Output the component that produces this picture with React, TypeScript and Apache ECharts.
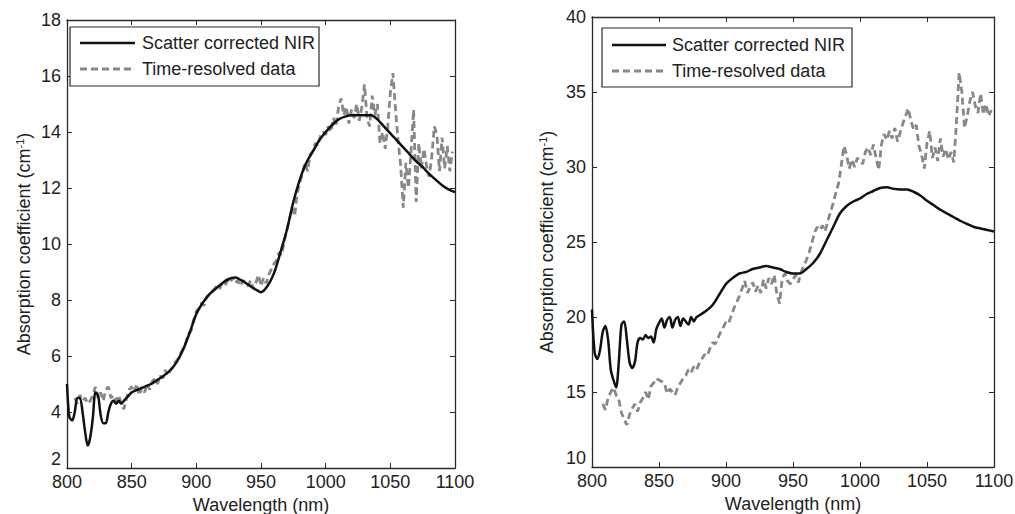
import React, { useEffect, useRef } from "react";
import * as echarts from "echarts";

const FONT = "'Liberation Sans', Arial, sans-serif";

// Left panel: scatter corrected NIR
const leftNirWl = [800, 801, 802, 804, 806, 808, 810, 812, 814, 816, 818, 820, 822, 824, 826, 828, 830, 832, 834, 836, 838, 840, 842, 844, 846, 848, 850, 855, 860, 865, 870, 875, 880, 885, 890, 895, 900, 905, 910, 915, 920, 925, 930, 935, 940, 945, 950, 955, 960, 965, 970, 975, 980, 985, 990, 995, 1000, 1005, 1010, 1015, 1020, 1025, 1030, 1035, 1040, 1045, 1050, 1055, 1060, 1065, 1070, 1075, 1080, 1085, 1090, 1095, 1100];
const leftNirVal = [5.0, 4.2, 3.8, 3.7, 4.0, 4.5, 4.5, 4.0, 3.3, 2.8, 3.1, 3.8, 4.7, 4.6, 3.9, 3.6, 3.6, 4.0, 4.3, 4.4, 4.3, 4.4, 4.3, 4.4, 4.5, 4.6, 4.7, 4.8, 4.9, 5.0, 5.15, 5.3, 5.5, 5.8, 6.25, 6.85, 7.5, 7.9, 8.2, 8.4, 8.6, 8.75, 8.8, 8.7, 8.55, 8.4, 8.28, 8.5, 8.95, 9.7, 10.5, 11.5, 12.3, 12.9, 13.3, 13.7, 14.0, 14.25, 14.45, 14.55, 14.6, 14.6, 14.6, 14.6, 14.45, 14.2, 13.95, 13.7, 13.45, 13.2, 12.95, 12.75, 12.5, 12.3, 12.1, 11.95, 11.85];

// Left panel: time-resolved data
const leftTrWl = [806, 808, 810, 812, 814, 816, 818, 820, 822, 824, 826, 828, 830, 832, 834, 836, 838, 840, 842, 844, 846, 848, 850, 852, 854, 856, 858, 860, 862, 864, 866, 868, 870, 872, 874, 876, 878, 880, 882, 884, 886, 888, 890, 892, 894, 896, 898, 900, 902, 904, 906, 908, 910, 912, 914, 916, 918, 920, 922, 924, 926, 928, 930, 932, 934, 936, 938, 940, 942, 944, 946, 948, 950, 952, 954, 956, 958, 960, 962, 964, 966, 968, 970, 972, 974, 976, 978, 980, 982, 984, 986, 988, 990, 992, 994, 996, 998, 1000, 1002, 1004, 1006, 1008, 1010, 1012, 1014, 1016, 1018, 1020, 1022, 1024, 1026, 1028, 1030, 1032, 1034, 1036, 1038, 1040, 1042, 1044, 1046, 1048, 1050, 1052, 1054, 1056, 1058, 1060, 1062, 1064, 1066, 1068, 1070, 1072, 1074, 1076, 1078, 1080, 1082, 1084, 1086, 1088, 1090, 1092, 1094, 1096, 1098];
const leftTrVal = [4.5, 4.3, 4.6, 4.4, 4.5, 4.3, 4.4, 4.6, 4.9, 4.5, 4.7, 4.4, 4.8, 4.9, 4.5, 4.6, 4.4, 4.6, 4.3, 4.1, 4.5, 4.8, 4.9, 4.7, 5.0, 4.6, 4.9, 4.7, 5.0, 4.8, 5.1, 5.2, 5.0, 5.3, 5.2, 5.5, 5.3, 5.5, 5.6, 5.8, 5.9, 6.1, 6.3, 6.5, 6.8, 6.9, 7.3, 7.6, 7.7, 7.9, 7.8, 8.1, 8.2, 8.3, 8.4, 8.5, 8.4, 8.6, 8.5, 8.7, 8.6, 8.8, 8.6, 8.7, 8.5, 8.7, 8.6, 8.5, 8.7, 8.4, 8.6, 8.9, 8.5, 8.8, 8.6, 8.9, 9.1, 9.3, 9.4, 9.7, 9.6, 10.1, 10.5, 10.9, 11.3, 11.0, 11.8, 12.2, 12.5, 12.9, 12.6, 13.2, 13.3, 13.6, 13.5, 13.9, 14.0, 13.9, 14.2, 14.0, 14.5, 14.2, 14.9, 15.2, 14.6, 14.9, 14.3, 14.8, 14.5, 15.0, 14.4, 14.9, 15.7, 14.5, 14.2, 15.3, 14.6, 15.0, 13.6, 14.0, 13.4, 14.2, 15.4, 16.1, 14.8, 13.7, 12.8, 11.3, 12.9, 12.0, 13.3, 14.8, 11.5, 13.6, 12.7, 13.4, 12.8, 12.4, 13.1, 14.2, 13.9, 12.6, 13.8, 12.7, 13.5, 12.6, 13.3];

// Right panel: scatter corrected NIR
const rightNirWl = [800, 802, 804, 806, 808, 810, 812, 814, 816, 818, 820, 822, 824, 826, 828, 830, 832, 834, 836, 838, 840, 842, 844, 846, 848, 850, 852, 854, 856, 858, 860, 862, 864, 866, 868, 870, 872, 874, 876, 878, 880, 885, 890, 895, 900, 905, 910, 915, 920, 925, 930, 935, 940, 945, 950, 955, 960, 965, 970, 975, 980, 985, 990, 995, 1000, 1005, 1010, 1015, 1020, 1025, 1030, 1035, 1040, 1045, 1050, 1055, 1060, 1065, 1070, 1075, 1080, 1085, 1090, 1095, 1100];
const rightNirVal = [20.5, 17.6, 17.2, 17.8, 19.0, 19.4, 18.5, 16.5, 15.8, 15.3, 17.0, 19.5, 19.7, 18.5, 17.0, 16.6, 17.0, 18.3, 18.6, 18.5, 18.8, 18.6, 18.7, 18.3, 19.2, 19.6, 19.9, 19.3, 19.8, 20.0, 19.3, 19.8, 20.0, 19.4, 19.9, 19.7, 19.5, 20.0, 19.7, 20.0, 20.1, 20.4, 20.8, 21.5, 22.2, 22.6, 22.9, 23.0, 23.2, 23.3, 23.4, 23.3, 23.2, 23.0, 22.9, 22.9, 23.2, 23.6, 24.2, 25.1, 26.0, 26.9, 27.4, 27.7, 27.9, 28.2, 28.4, 28.6, 28.65, 28.55, 28.5, 28.5, 28.35, 28.1, 27.75, 27.45, 27.15, 26.9, 26.65, 26.4, 26.2, 26.0, 25.9, 25.8, 25.7];

// Right panel: time-resolved data
const rightTrWl = [808, 810, 812, 814, 816, 818, 820, 822, 824, 826, 828, 830, 832, 834, 836, 838, 840, 842, 844, 846, 848, 850, 852, 854, 856, 858, 860, 862, 864, 866, 868, 870, 872, 874, 876, 878, 880, 882, 884, 886, 888, 890, 892, 894, 896, 898, 900, 902, 904, 906, 908, 910, 912, 914, 916, 918, 920, 922, 924, 926, 928, 930, 932, 934, 936, 938, 940, 942, 944, 946, 948, 950, 952, 954, 956, 958, 960, 962, 964, 966, 968, 970, 972, 974, 976, 978, 980, 982, 984, 986, 988, 990, 992, 994, 996, 998, 1000, 1002, 1004, 1006, 1008, 1010, 1012, 1014, 1016, 1018, 1020, 1022, 1024, 1026, 1028, 1030, 1032, 1034, 1036, 1038, 1040, 1042, 1044, 1046, 1048, 1050, 1052, 1054, 1056, 1058, 1060, 1062, 1064, 1066, 1068, 1070, 1072, 1074, 1076, 1078, 1080, 1082, 1084, 1086, 1088, 1090, 1092, 1094, 1096, 1098];
const rightTrVal = [14.2, 13.8, 14.6, 15.0, 15.3, 14.8, 14.5, 13.6, 13.2, 12.8, 13.5, 13.9, 14.2, 13.7, 14.3, 14.6, 15.0, 14.5, 15.4, 15.6, 15.9, 15.8, 15.7, 15.6, 14.9, 15.2, 15.0, 14.8, 15.3, 15.6, 15.9, 16.1, 16.5, 16.3, 16.7, 16.5, 16.9, 17.2, 17.5, 17.4, 17.9, 18.3, 18.2, 18.6, 19.0, 19.3, 19.7, 19.6, 20.1, 20.6, 21.0, 21.4, 21.9, 22.4, 21.6, 22.0, 22.3, 21.7, 22.1, 21.6, 22.5, 21.9, 22.6, 22.2, 22.8, 21.5, 20.9, 22.6, 22.9, 22.4, 22.2, 22.5, 22.8, 22.3, 23.0, 23.4, 23.8, 24.3, 24.9, 25.6, 26.0, 25.8, 26.1, 25.7, 26.4, 27.0, 27.6, 28.3, 28.9, 30.1, 31.4, 30.8, 29.9, 30.5, 30.0, 30.6, 30.4, 30.2, 31.0, 31.3, 30.8, 31.5, 30.6, 29.8, 31.5, 32.2, 31.8, 32.4, 31.9, 32.6, 31.7, 32.3, 32.9, 33.4, 33.9, 33.1, 32.5, 32.8, 31.4, 30.8, 29.9, 31.6, 32.4, 30.6, 31.3, 30.4, 31.9, 30.7, 31.2, 30.5, 31.0, 30.3, 33.0, 36.3, 35.0, 32.6, 33.4, 34.4, 35.0, 34.1, 33.6, 34.9, 33.5, 34.2, 33.4, 33.8];

const seriesNames = ["Scatter corrected NIR", "Time-resolved data"];
const xAxisTitle = "Wavelength (nm)";
const yAxisTitle = "Absorption coefficient (cm{sup|-1})";

const pairs = (xs: number[], ys: number[]) => xs.map((x, i) => [x, ys[i]]);

const AXIS_COLOR = "#2a2a2a";
const TEXT_COLOR = "#222";
const plain = (v: number) => String(v);

function bottomX(gridIndex: number) {
  return {
    type: "value", gridIndex, position: "bottom", min: 800, max: 1100, interval: 50,
    axisLine: { show: true, onZero: false, lineStyle: { color: AXIS_COLOR, width: 1.3 } },
    axisTick: { show: true, inside: true, length: 5, lineStyle: { color: AXIS_COLOR } },
    axisLabel: { show: true, fontFamily: FONT, fontSize: 18, color: TEXT_COLOR, margin: 5, formatter: plain },
    splitLine: { show: false },
    name: xAxisTitle, nameLocation: "middle", nameGap: 25,
    nameTextStyle: { fontFamily: FONT, fontSize: 18, color: TEXT_COLOR, lineHeight: 19 },
  };
}
function topX(gridIndex: number) {
  return {
    type: "value", gridIndex, position: "top", min: 800, max: 1100, interval: 50,
    axisLine: { show: true, onZero: false, lineStyle: { color: AXIS_COLOR, width: 1.3 } },
    axisTick: { show: true, inside: true, length: 5, lineStyle: { color: AXIS_COLOR } },
    axisLabel: { show: false }, splitLine: { show: false },
  };
}
function leftY(gridIndex: number, min: number, max: number, interval: number, nameGap: number) {
  return {
    type: "value", gridIndex, position: "left", min, max, interval,
    axisLine: { show: true, onZero: false, lineStyle: { color: AXIS_COLOR, width: 1.3 } },
    axisTick: { show: true, inside: true, length: 5, lineStyle: { color: AXIS_COLOR } },
    axisLabel: { show: true, fontFamily: FONT, fontSize: 18, color: TEXT_COLOR, margin: 6, formatter: plain, verticalAlignMinLabel: "bottom" },
    splitLine: { show: false },
    name: yAxisTitle, nameLocation: "middle", nameGap,
    nameTextStyle: {
      fontFamily: FONT, fontSize: 18, color: TEXT_COLOR,
      rich: { sup: { fontFamily: FONT, fontSize: 11, color: TEXT_COLOR, verticalAlign: "top", padding: [0, 0, 9, 0] } },
    },
  };
}
function rightY(gridIndex: number, min: number, max: number, interval: number) {
  return {
    type: "value", gridIndex, position: "right", min, max, interval,
    axisLine: { show: true, onZero: false, lineStyle: { color: AXIS_COLOR, width: 1.3 } },
    axisTick: { show: true, inside: true, length: 5, lineStyle: { color: AXIS_COLOR } },
    axisLabel: { show: false }, splitLine: { show: false },
  };
}

function legendGraphic(x: number, y: number, w: number, h: number, lineX1: number, lineX2: number, textX: number, row1: number, row2: number) {
  return {
    type: "group",
    children: [
      { type: "rect", shape: { x, y, width: w, height: h }, style: { fill: "#fff", stroke: AXIS_COLOR, lineWidth: 1.2 }, z: 100 },
      { type: "line", shape: { x1: lineX1, y1: row1, x2: lineX2, y2: row1 }, style: { stroke: "#111", lineWidth: 2.6 }, z: 101 },
      { type: "line", shape: { x1: lineX1, y1: row2, x2: lineX2, y2: row2 }, style: { stroke: "#888", lineWidth: 2.8, lineDash: [7, 4] }, z: 101 },
      { type: "text", x: textX, y: row1, style: { text: seriesNames[0], font: `18px ${FONT}`, fill: TEXT_COLOR, verticalAlign: "middle" }, z: 101 },
      { type: "text", x: textX, y: row2, style: { text: seriesNames[1], font: `18px ${FONT}`, fill: TEXT_COLOR, verticalAlign: "middle" }, z: 101 },
    ],
  };
}

export default function App() {
  const ref = useRef<HTMLDivElement>(null);
  useEffect(() => {
    if (!ref.current) return;
    const chart = echarts.init(ref.current, undefined, { renderer: "svg" });
    const solid = { color: "#111", width: 2.5, type: "solid" };
    const dashed = { color: "#888", width: 2.8, type: [7, 4] };
    chart.setOption({
      animation: false,
      backgroundColor: "#fff",
      grid: [
        { left: 67, top: 20, width: 388, height: 448, containLabel: false, outerBoundsMode: "none" },
        { left: 592, top: 17, width: 402, height: 450, containLabel: false, outerBoundsMode: "none" },
      ],
      xAxis: [bottomX(0), topX(0), bottomX(1), topX(1)],
      yAxis: [leftY(0, 2, 18, 2, 33), rightY(0, 2, 18, 2), leftY(1, 10, 40, 5, 35), rightY(1, 10, 40, 5)],
      series: [
        { name: seriesNames[1], type: "line", xAxisIndex: 0, yAxisIndex: 0, data: pairs(leftTrWl, leftTrVal), showSymbol: false, symbol: "none", lineStyle: dashed, z: 2 },
        { name: seriesNames[0], type: "line", xAxisIndex: 0, yAxisIndex: 0, data: pairs(leftNirWl, leftNirVal), showSymbol: false, symbol: "none", smooth: 0.3, lineStyle: solid, z: 3 },
        { name: seriesNames[1], type: "line", xAxisIndex: 2, yAxisIndex: 2, data: pairs(rightTrWl, rightTrVal), showSymbol: false, symbol: "none", lineStyle: dashed, z: 2 },
        { name: seriesNames[0], type: "line", xAxisIndex: 2, yAxisIndex: 2, data: pairs(rightNirWl, rightNirVal), showSymbol: false, symbol: "none", smooth: 0.3, lineStyle: solid, z: 3 },
      ],
      graphic: [
        legendGraphic(70, 27, 249, 59, 80, 135, 142, 43, 69),
        legendGraphic(602, 28, 250, 59, 612, 666, 672, 45, 71),
      ],
    });
    return () => chart.dispose();
  }, []);
  return <div ref={ref} style={{ position: "fixed", left: 0, top: 0, width: 1015, height: 514, background: "#fff" }} />;
}
